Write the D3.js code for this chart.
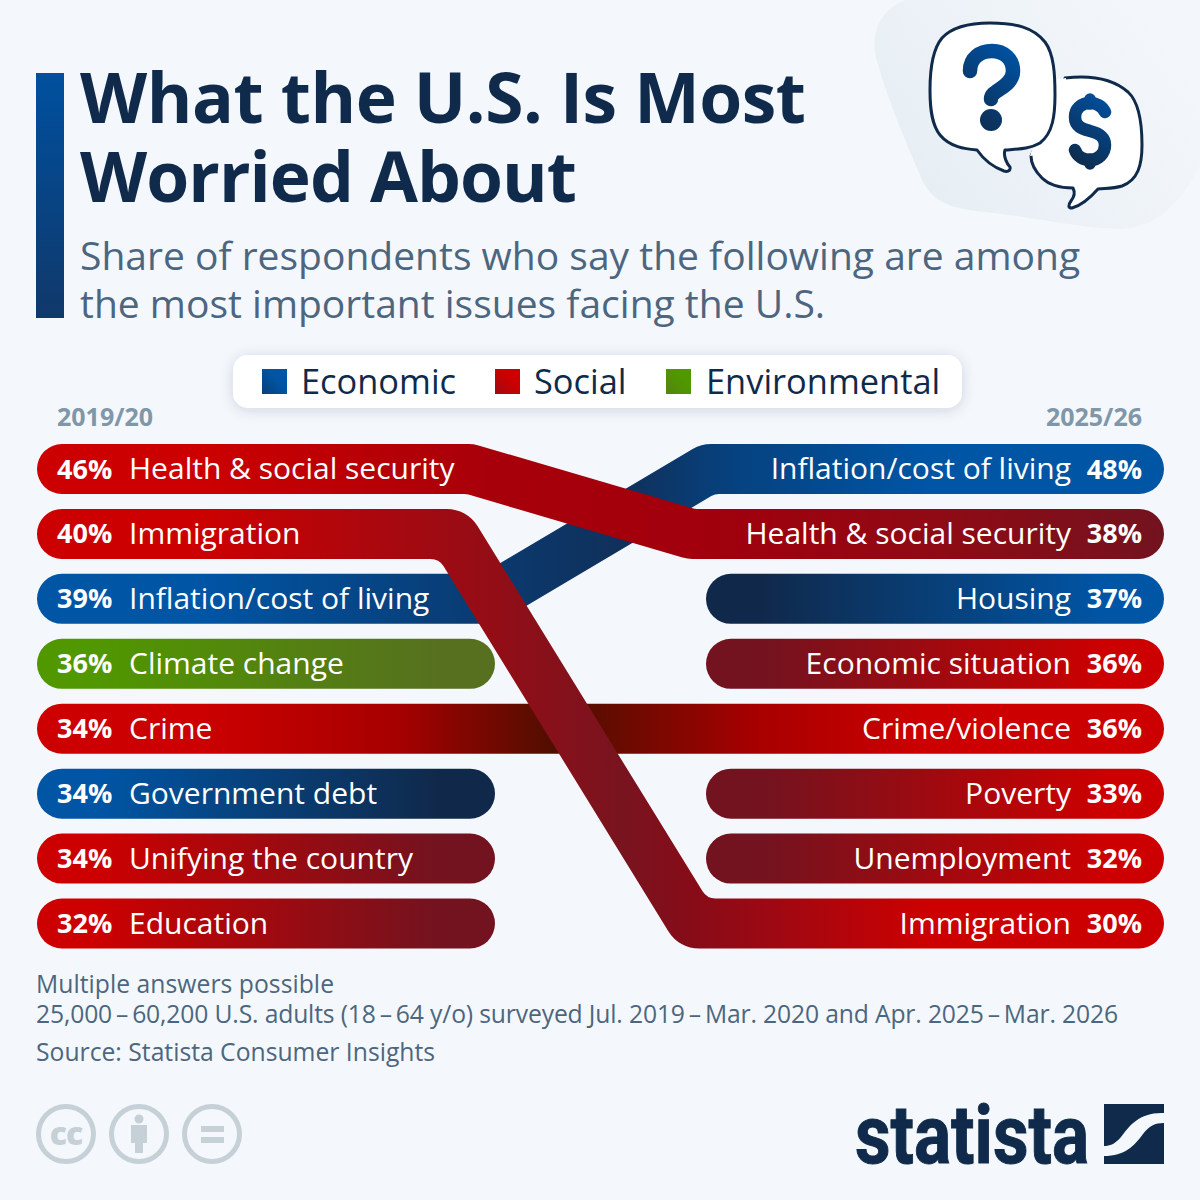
<!DOCTYPE html>
<html><head><meta charset="utf-8">
<script src="https://cdnjs.cloudflare.com/ajax/libs/d3/7.9.0/d3.min.js"></script>
<style>html,body{margin:0;padding:0;background:#f4f8fc}svg{display:block}text{font-family:"Open Sans",sans-serif}</style>
</head><body><svg id="c" width="1200" height="1200" viewBox="0 0 1200 1200"></svg>
<script>
const titleLines = ["What the U.S. Is Most", "Worried About"];
const subtitleLines = ["Share of respondents who say the following are among", "the most important issues facing the U.S."];
const categories = ["Economic", "Social", "Environmental"];
const periods = ["2019/20", "2025/26"];
const leftLabels = ["Health & social security","Immigration","Inflation/cost of living","Climate change","Crime","Government debt","Unifying the country","Education"];
const leftValues = [46,40,39,36,34,34,34,32];
const leftCats = ["Social","Social","Economic","Environmental","Social","Economic","Social","Social"];
const rightLabels = ["Inflation/cost of living","Health & social security","Housing","Economic situation","Crime/violence","Poverty","Unemployment","Immigration"];
const rightValues = [48,38,37,36,36,33,32,30];
const rightCats = ["Economic","Social","Economic","Social","Social","Social","Social","Social"];
const footnotes = ["Multiple answers possible","25,000\u2009\u2013\u200960,200 U.S. adults (18\u2009\u2013\u200964 y/o) surveyed Jul. 2019\u2009\u2013\u2009Mar. 2020 and Apr. 2025\u2009\u2013\u2009Mar. 2026","Source: Statista Consumer Insights"];

// layout & style
const C = {bg:"#f4f8fc",navy:"#0f2a4a",sub:"#4d667f",grey:"#7f97a8",icon:"#c6d0d7"};
const ramp = {Economic:["#0055a5","#10294a"],Social:["#cc0000","#72131f"],Environmental:["#509700","#56701f"]};
const B = ramp.Social[0], E = ramp.Economic[0];
const links = [ // which left row continues into which right row, drawn back to front
 {l:4,r:4,bendL:null,bendR:null,stops:[[0,B],[.145,B],[.32,"#a60000"],[.465,"#4c0f00"],[.55,"#7a0800"],[.64,"#a80000"],[.79,B],[1,B]]},
 {l:2,r:0,bendL:489,bendR:708,stops:[[0,E],[.145,E],[.4,"#0a3a70"],[.52,"#10305a"],[.62,"#064280"],[.79,E],[1,E]]},
 {l:0,r:1,bendL:470,bendR:691,stops:[[0,B],[.145,B],[.4,"#a8000a"],[.6,"#a0000c"],[.8,"#8f0a14"],[1,ramp.Social[1]]]},
 {l:1,r:7,bendL:453,bendR:693,stops:[[0,B],[.145,B],[.35,"#a00a12"],[.52,"#78141f"],[.58,"#860c18"],[.66,"#a00812"],[.79,B],[1,B]]}
];
const svg = d3.select("#c");
const defs = svg.append("defs");
const y = d3.scalePoint().domain(d3.range(8)).range([469,923.5]);
const x = d3.scaleLinear().domain([0,1]).range([37,1164]);
const barH = 50, barW = 458;
const X0 = x(0), X1 = x(1), leftEnd = X0+barW, rightStart = X1-barW;

function grad(id, x1, x2, stops, y1, y2){
  const g = defs.append("linearGradient").attr("id",id).attr("gradientUnits","userSpaceOnUse")
    .attr("x1",x1).attr("x2",x2).attr("y1",y1||0).attr("y2",y2||0);
  stops.forEach(s=>g.append("stop").attr("offset",s[0]).attr("stop-color",s[1]));
  return `url(#${id})`;
}
svg.append("rect").attr("width",1200).attr("height",1200).attr("fill",C.bg);

// icon backdrop
svg.append("path").attr("fill",grad("blob",1170,930,[[0,"#f3f7fb"],[.45,"#eef3f8"],[1,"#e6eef4"]],40,215))
 .attr("d","M905 0C880 10 868 35 878 65C890 105 905 140 920 175C930 200 945 208 985 212C1040 218 1100 232 1130 228C1165 222 1185 195 1200 165L1200 0Z");

// title block
svg.append("rect").attr("x",36).attr("y",73).attr("width",28).attr("height",245)
 .attr("fill",grad("bar",0,0,[[0,"#00509f"],[1,"#10386a"]],73,318));
const titleFit = [726,497];
svg.selectAll(".t").data(titleLines).join("text").attr("x",80).attr("y",(d,i)=>123+i*78.5)
 .attr("font-size",69.5).attr("font-weight",700).attr("fill",C.navy)
 .attr("textLength",(d,i)=>titleFit[i]).attr("lengthAdjust","spacing").text(d=>d);
svg.selectAll(".s").data(subtitleLines).join("text").attr("x",80).attr("y",(d,i)=>270+i*48)
 .attr("font-size",39).attr("fill",C.sub).text(d=>d);

// legend
const ds = defs.append("filter").attr("id","sh").attr("x","-10%").attr("y","-40%").attr("width","120%").attr("height","180%");
ds.append("feDropShadow").attr("dx",0).attr("dy",2).attr("stdDeviation",7).attr("flood-color","#0f2a4a").attr("flood-opacity",.16);
svg.append("rect").attr("x",233).attr("y",355).attr("width",729).attr("height",53).attr("rx",15).attr("fill","#fff").attr("filter","url(#sh)");
const legendX = d3.scaleOrdinal().domain(categories).range([262,495,666]);
categories.forEach(c=>{
  const lx = legendX(c);
  svg.append("rect").attr("x",lx).attr("y",369).attr("width",25).attr("height",25)
    .attr("fill",grad("lg"+c,lx,lx+25,[[0,d3.interpolateRgb(ramp[c][0],ramp[c][1])(.5)],[.6,ramp[c][0]],[1,ramp[c][0]]],394,369));
  svg.append("text").attr("x",lx+(c==="Economic"?39:c==="Social"?39:40)).attr("y",394).attr("font-size",34.4).attr("fill",C.navy).text(c);
});
svg.append("text").attr("x",57).attr("y",426).attr("font-size",25).attr("font-weight",700).attr("fill",C.grey).text(periods[0]);
svg.append("text").attr("x",1142).attr("y",426).attr("text-anchor","end").attr("font-size",25).attr("font-weight",700).attr("fill",C.grey).text(periods[1]);

// bars that do not continue
const linkedL = new Set(links.map(d=>d.l)), linkedR = new Set(links.map(d=>d.r));
const pill = (x0,i,fill)=>svg.append("rect").attr("x",x0).attr("y",y(i)-barH/2).attr("width",barW).attr("height",barH).attr("rx",barH/2).attr("fill",fill);
leftCats.forEach((c,i)=>{ if(!linkedL.has(i)) pill(X0,i,grad("L"+i,X0,leftEnd,[[0,ramp[c][0]],[.13,ramp[c][0]],[.88,ramp[c][1]],[1,ramp[c][1]]])); });
rightCats.forEach((c,i)=>{ if(!linkedR.has(i)) pill(rightStart,i,grad("R"+i,rightStart,X1,[[0,ramp[c][1]],[.12,ramp[c][1]],[.87,ramp[c][0]],[1,ramp[c][0]]])); });

// ribbons: an outline with a wide outer and a tight inner corner at each bend
const R = barH/2, outerR = 36, innerR = 15;
links.forEach((k,n)=>{
  const yL = y(k.l), yR = y(k.r);
  const p = d3.path();
  p.moveTo(X0+R,yL-R);
  if(k.bendL!==null){
    const down = yR>yL, s = down?1:-1;
    const m = R*Math.tan(Math.atan(Math.abs(yR-yL)/(k.bendR-k.bendL))/2)*s;
    p.arcTo(k.bendL+m,yL-R,k.bendR+m,yR-R,down?outerR:innerR);
    p.arcTo(k.bendR+m,yR-R,X1-R,yR-R,down?innerR:outerR);
    p.lineTo(X1-R,yR-R);
    p.arc(X1-R,yR,R,-Math.PI/2,Math.PI/2);
    p.arcTo(k.bendR-m,yR+R,k.bendL-m,yL+R,down?outerR:innerR);
    p.arcTo(k.bendL-m,yL+R,X0+R,yL+R,down?innerR:outerR);
  } else {
    p.lineTo(X1-R,yR-R);
    p.arc(X1-R,yR,R,-Math.PI/2,Math.PI/2);
  }
  p.lineTo(X0+R,yL+R);
  p.arc(X0+R,yL,R,Math.PI/2,Math.PI*1.5);
  p.closePath();
  svg.append("path").attr("d",p.toString()).attr("fill",grad("K"+n,X0,X1,k.stops));
});

// labels
const tx = {pctL:57,nameL:129,pctR:1142,nameR:1071};
leftLabels.forEach((t,i)=>{
  svg.append("text").attr("x",tx.pctL).attr("y",y(i)+9.5).attr("font-size",27).attr("font-weight",700).attr("fill","#fff").text(leftValues[i]+"%");
  svg.append("text").attr("x",tx.nameL).attr("y",y(i)+10).attr("font-size",30).attr("fill","#fff").text(t);
});
rightLabels.forEach((t,i)=>{
  svg.append("text").attr("x",tx.pctR).attr("y",y(i)+9.5).attr("text-anchor","end").attr("font-size",27).attr("font-weight",700).attr("fill","#fff").text(rightValues[i]+"%");
  svg.append("text").attr("x",tx.nameR).attr("y",y(i)+10).attr("text-anchor","end").attr("font-size",30).attr("fill","#fff").text(t);
});

// footer
const fy = [993,1023,1061], footFit = [298,1082,399];
svg.selectAll(".f").data(footnotes).join("text").attr("x",36).attr("y",(d,i)=>fy[i]).attr("font-size",24.7).attr("fill",C.sub)
 .attr("textLength",(d,i)=>footFit[i]).attr("lengthAdjust","spacing").text(d=>d);

// speech bubbles
const ig = svg.append("g").attr("fill","#fff").attr("stroke",C.navy).attr("stroke-width",3).attr("stroke-linejoin","round").attr("stroke-linecap","round");
ig.append("path").attr("d","M1065 78C1090 75 1112 78 1128 92C1140 103 1142 125 1142 145C1142 165 1138 180 1122 186C1112 189 1104 188 1098 189C1090 198 1080 206 1072 208C1068 208 1068 205 1071 201C1075 196 1075 192 1073 188C1060 188 1050 186 1042 178C1035 171 1031 165 1031 156Z");
ig.append("path").attr("fill","#fff").attr("stroke","none").attr("d","M1053 80L1066 78L1066 120L1040 155L1030 156Z");
ig.append("path").attr("d","M990 23C1015 23 1033 27 1045 42C1054 54 1055 75 1055 95C1055 115 1053 133 1040 143C1030 149 1018 149 1005 150C1003 156 1007 164 1010 167C1011 171 1007 172 1004 171C993 167 984 160 977 150C965 149 950 147 940 135C932 125 930 110 930 90C930 70 932 50 942 38C953 26 970 23 990 23Z");
const qmFill = grad("qm",965,1020,[[0,C.navy],[1,"#00509f"]],130,60);
svg.append("path").attr("fill","none").attr("stroke",qmFill).attr("stroke-width",14.5).attr("stroke-linecap","round")
 .attr("d","M970 71C970 58 980 51 992 51C1004 51 1013 59 1013 71C1013 80 1006 85 1000 89C994 93 991 95 991 99");
svg.append("circle").attr("cx",991).attr("cy",120).attr("r",11).attr("fill",qmFill);
const dmFill = grad("dm",1068,1112,[[0,C.navy],[1,"#00509f"]],160,100);
svg.append("path").attr("fill","none").attr("stroke",dmFill).attr("stroke-width",12.5).attr("stroke-linecap","round")
 .attr("d","M1105 112C1102 106 1096 103 1090 103C1081 103 1075 109 1075 117C1075 127 1083 129 1090 131C1098 133 1105 136 1105 145C1105 154 1098 160 1090 160C1083 160 1077 156 1075 150");
svg.append("path").attr("fill","none").attr("stroke",dmFill).attr("stroke-width",11.5).attr("stroke-linecap","round")
 .attr("d","M1090 99V104M1090 159V164");

// licence icons
const cx = [66,139,212];
cx.forEach(v=>svg.append("circle").attr("cx",v).attr("cy",1134).attr("r",27.5).attr("fill","none").attr("stroke",C.icon).attr("stroke-width",5));
svg.append("text").attr("x",66).attr("y",1145).attr("text-anchor","middle").attr("font-size",32).attr("font-weight",800).attr("fill",C.icon).attr("letter-spacing",-1).text("cc");
svg.append("circle").attr("cx",139).attr("cy",1119).attr("r",4.5).attr("fill",C.icon);
svg.append("path").attr("fill",C.icon).attr("d","M131 1125H147V1143H143V1153H135V1143H131Z");
svg.append("rect").attr("x",201).attr("y",1126).attr("width",23).attr("height",6).attr("fill",C.icon);
svg.append("rect").attr("x",201).attr("y",1137).attr("width",23).attr("height",6).attr("fill",C.icon);

// logo
svg.append("text").attr("x",855).attr("y",1163).attr("font-size",82).attr("font-weight",700).attr("fill",C.navy).attr("stroke",C.navy).attr("stroke-width",1)
 .attr("textLength",234).attr("lengthAdjust","spacingAndGlyphs").style("font-family",'"Liberation Sans Narrow","Roboto",sans-serif').text("statista");
svg.append("path").attr("fill",C.navy).attr("d","M1104 1104H1164V1113C1140 1112 1130 1125 1121 1137C1115 1144 1110 1146 1104 1146Z");
svg.append("path").attr("fill",C.navy).attr("d","M1164 1123V1164H1104V1156C1125 1156 1134 1146 1143 1134C1149 1126 1155 1123 1164 1123Z");
</script></body></html>
